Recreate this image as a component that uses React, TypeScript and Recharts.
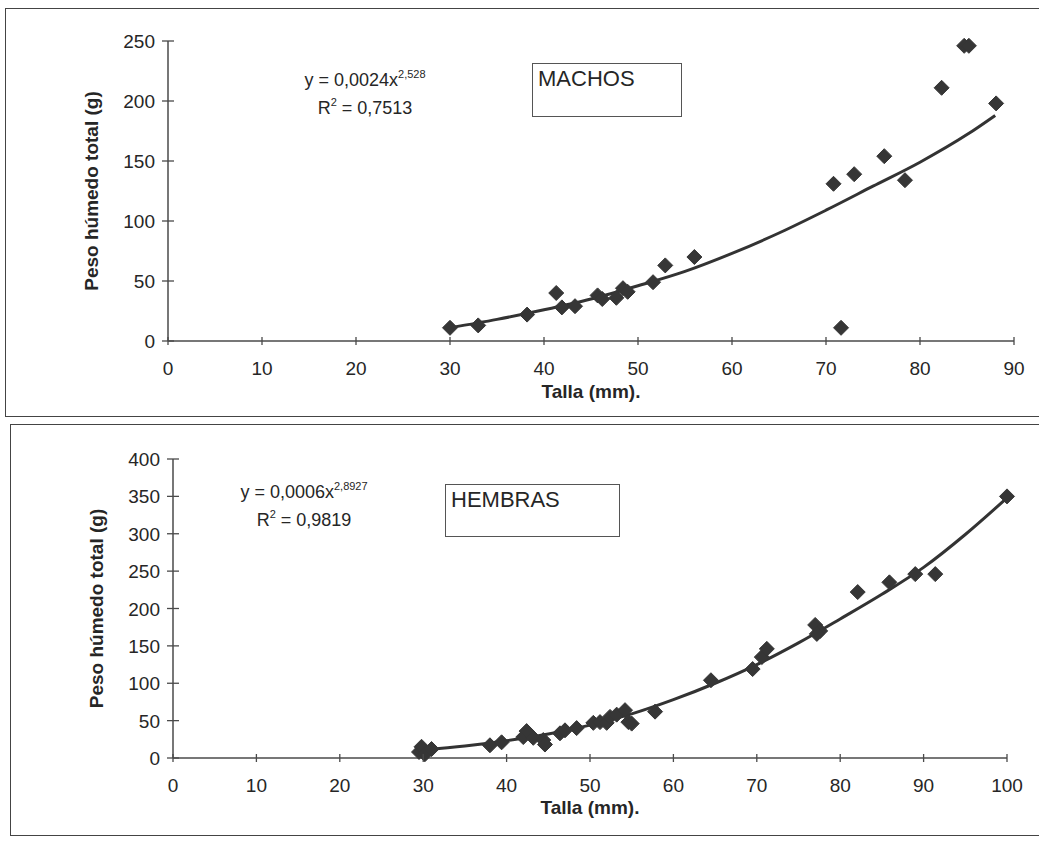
import React from 'react';
import { ScatterChart, Scatter, XAxis, YAxis } from 'recharts';

// MACHOS: talla (mm) vs peso húmedo total (g)
const machosTalla = [30, 33, 38.2, 41.3, 41.9, 43.3, 45.7, 46.2, 47.7, 48.4, 48.9, 51.6, 52.9, 56, 70.8, 71.6, 73, 76.2, 78.4, 82.3, 84.7, 85.2, 88.1];
const machosPeso = [11, 13, 22, 40, 28, 29, 38, 35, 36, 44, 41, 49, 63, 70, 131, 11, 139, 154, 134, 211, 246, 246, 198];
// power trend line y = 0,0024x^2,528
const machosTrendTalla = [30, 35, 40, 45, 50, 55, 60, 65, 70, 75, 80, 85, 88];
const machosTrendPeso = [11, 18, 26, 35, 46, 58, 73, 90, 109, 129, 149, 172, 188];

// HEMBRAS
const hembrasTalla = [29.5, 29.8, 30.2, 31, 38, 39.4, 42, 42.4, 43.2, 44.4, 44.6, 46.4, 47, 48.4, 50.4, 51.2, 52, 52.4, 53.2, 54.2, 54.6, 55, 57.8, 64.5, 69.5, 70.6, 71.2, 77, 77.6, 77.2, 82.1, 85.9, 89, 91.4, 100];
const hembrasPeso = [8, 15, 5, 12, 17, 21, 28, 36, 27, 24, 18, 33, 37, 40, 47, 48, 47, 55, 58, 64, 48, 46, 62, 104, 119, 135, 146, 178, 170, 166, 222, 235, 246, 246, 350];
// power trend line y = 0,0006x^2,8927
const hembrasTrendTalla = [30, 35, 40, 45, 50, 55, 60, 65, 70, 75, 80, 85, 90, 95, 100];
const hembrasTrendPeso = [11, 16, 23, 32, 44, 59, 78, 100, 125, 154, 186, 219, 255, 299, 348];

const machosXTicks = [0, 10, 20, 30, 40, 50, 60, 70, 80, 90];
const machosYTicks = [0, 50, 100, 150, 200, 250];
const hembrasXTicks = [0, 10, 20, 30, 40, 50, 60, 70, 80, 90, 100];
const hembrasYTicks = [0, 50, 100, 150, 200, 250, 300, 350, 400];

const toPoints = (xs: number[], ys: number[]) => xs.map((x, i) => ({ talla: x, peso: ys[i] }));

const FONT = '"Liberation Sans", Arial, sans-serif';
const INK = '#262626';
const AXIS = '#4a4a4a';

const Diamond = (props: any) => {
  const { cx, cy } = props;
  const r = 7.5;
  return (
    <polygon
      points={`${cx},${cy - r} ${cx + r},${cy} ${cx},${cy + r} ${cx - r},${cy}`}
      fill="#363636"
      stroke="#363636"
      strokeWidth={1}
    />
  );
};

const NoShape = () => <g />;

// y tick: line crosses the axis, label to the left
const YTick = (props: any) => {
  const { x, y, payload } = props;
  const ax = x + 12;
  return (
    <g>
      <line x1={ax - 6} x2={ax + 6} y1={y} y2={y} stroke={AXIS} strokeWidth={1.3} />
      <text x={x - 1} y={y} dy={7} textAnchor="end" fontSize={19} fontFamily={FONT} fill={INK}>
        {payload.value}
      </text>
    </g>
  );
};

const XTick = (props: any) => {
  const { x, y, payload } = props;
  return (
    <g>
      <line x1={x} x2={x} y1={y - 4} y2={y + 4} stroke={AXIS} strokeWidth={1.3} />
      <text x={x} y={y + 34} textAnchor="middle" fontSize={19} fontFamily={FONT} fill={INK}>
        {payload.value}
      </text>
    </g>
  );
};

const titleStyle = { fontWeight: 'bold', fontSize: 19, fill: INK, fontFamily: FONT };

interface PanelProps {
  top: number;
  height: number;
  yAxisWidth: number;
  margin: { top: number; right: number; bottom: number; left: number };
  xMax: number;
  yMax: number;
  xTicks: number[];
  yTicks: number[];
  points: Array<{ talla: number; peso: number }>;
  trend: Array<{ talla: number; peso: number }>;
  yLabelOffset: number;
  xLabelOffset: number;
}

const Panel: React.FC<PanelProps> = p => (
  <div style={{ position: 'absolute', left: 0, top: p.top }}>
    <ScatterChart width={1039} height={p.height} margin={p.margin}>
      <XAxis
        type="number"
        dataKey="talla"
        domain={[0, p.xMax]}
        ticks={p.xTicks}
        interval={0}
        height={60}
        tickSize={0}
        tickMargin={0}
        tick={<XTick />}
        axisLine={{ stroke: AXIS, strokeWidth: 1.5 }}
        label={{ value: 'Talla (mm).', position: 'insideBottom', offset: p.xLabelOffset, style: titleStyle }}
      />
      <YAxis
        type="number"
        dataKey="peso"
        domain={[0, p.yMax]}
        ticks={p.yTicks}
        interval={0}
        width={p.yAxisWidth}
        tickSize={0}
        tickMargin={12}
        tick={<YTick />}
        axisLine={{ stroke: AXIS, strokeWidth: 1.5 }}
        label={{
          value: 'Peso húmedo total (g)',
          angle: -90,
          position: 'insideLeft',
          offset: p.yLabelOffset,
          style: { ...titleStyle, textAnchor: 'middle' },
        }}
      />
      <Scatter
        data={p.trend}
        line={{ stroke: '#333', strokeWidth: 3 }}
        lineJointType="monotoneX"
        shape={<NoShape />}
        legendType="none"
        isAnimationActive={false}
      />
      <Scatter data={p.points} shape={<Diamond />} isAnimationActive={false} />
    </ScatterChart>
  </div>
);

const frame = (left: number, top: number, height: number): React.CSSProperties => ({
  position: 'absolute',
  left,
  top,
  width: 1060,
  height,
  border: '1.5px solid #444',
  boxSizing: 'border-box',
});

const eqStyle = (left: number, top: number): React.CSSProperties => ({
  position: 'absolute',
  left,
  top,
  width: 220,
  textAlign: 'center',
  fontFamily: FONT,
  fontSize: 18,
  lineHeight: '26px',
  color: INK,
});

const sup: React.CSSProperties = { fontSize: 11, position: 'relative', top: -8 };

const boxStyle = (left: number, top: number, width: number, height: number): React.CSSProperties => ({
  position: 'absolute',
  left,
  top,
  width,
  height,
  border: '1.5px solid #555',
  boxSizing: 'border-box',
  padding: '4px 5px',
  fontFamily: FONT,
  fontSize: 22,
  lineHeight: '22px',
  color: INK,
});

export default function App() {
  return (
    <div style={{ position: 'absolute', left: 0, top: 0, width: 1039, height: 842, background: '#fff', overflow: 'hidden' }}>
      <div style={frame(5, 8, 409)} />
      <div style={frame(10, 424, 412)} />

      <Panel
        top={0}
        height={420}
        yAxisWidth={168}
        margin={{ top: 41, right: 25, bottom: 19, left: 0 }}
        xMax={90}
        yMax={250}
        xTicks={machosXTicks}
        yTicks={machosYTicks}
        points={toPoints(machosTalla, machosPeso)}
        trend={toPoints(machosTrendTalla, machosTrendPeso)}
        yLabelOffset={91}
        xLabelOffset={3}
      />
      <Panel
        top={420}
        height={422}
        yAxisWidth={173}
        margin={{ top: 39, right: 32, bottom: 24, left: 0 }}
        xMax={100}
        yMax={400}
        xTicks={hembrasXTicks}
        yTicks={hembrasYTicks}
        points={toPoints(hembrasTalla, hembrasPeso)}
        trend={toPoints(hembrasTrendTalla, hembrasTrendPeso)}
        yLabelOffset={96}
        xLabelOffset={4}
      />

      <div style={eqStyle(255, 67)}>
        <div>y = 0,0024x<span style={sup}>2,528</span></div>
        <div>R<span style={sup}>2</span> = 0,7513</div>
      </div>
      <div style={boxStyle(532, 63, 150, 54)}>MACHOS</div>

      <div style={eqStyle(194, 479)}>
        <div>y = 0,0006x<span style={sup}>2,8927</span></div>
        <div>R<span style={sup}>2</span> = 0,9819</div>
      </div>
      <div style={boxStyle(445, 484, 175, 53)}>HEMBRAS</div>
    </div>
  );
}
